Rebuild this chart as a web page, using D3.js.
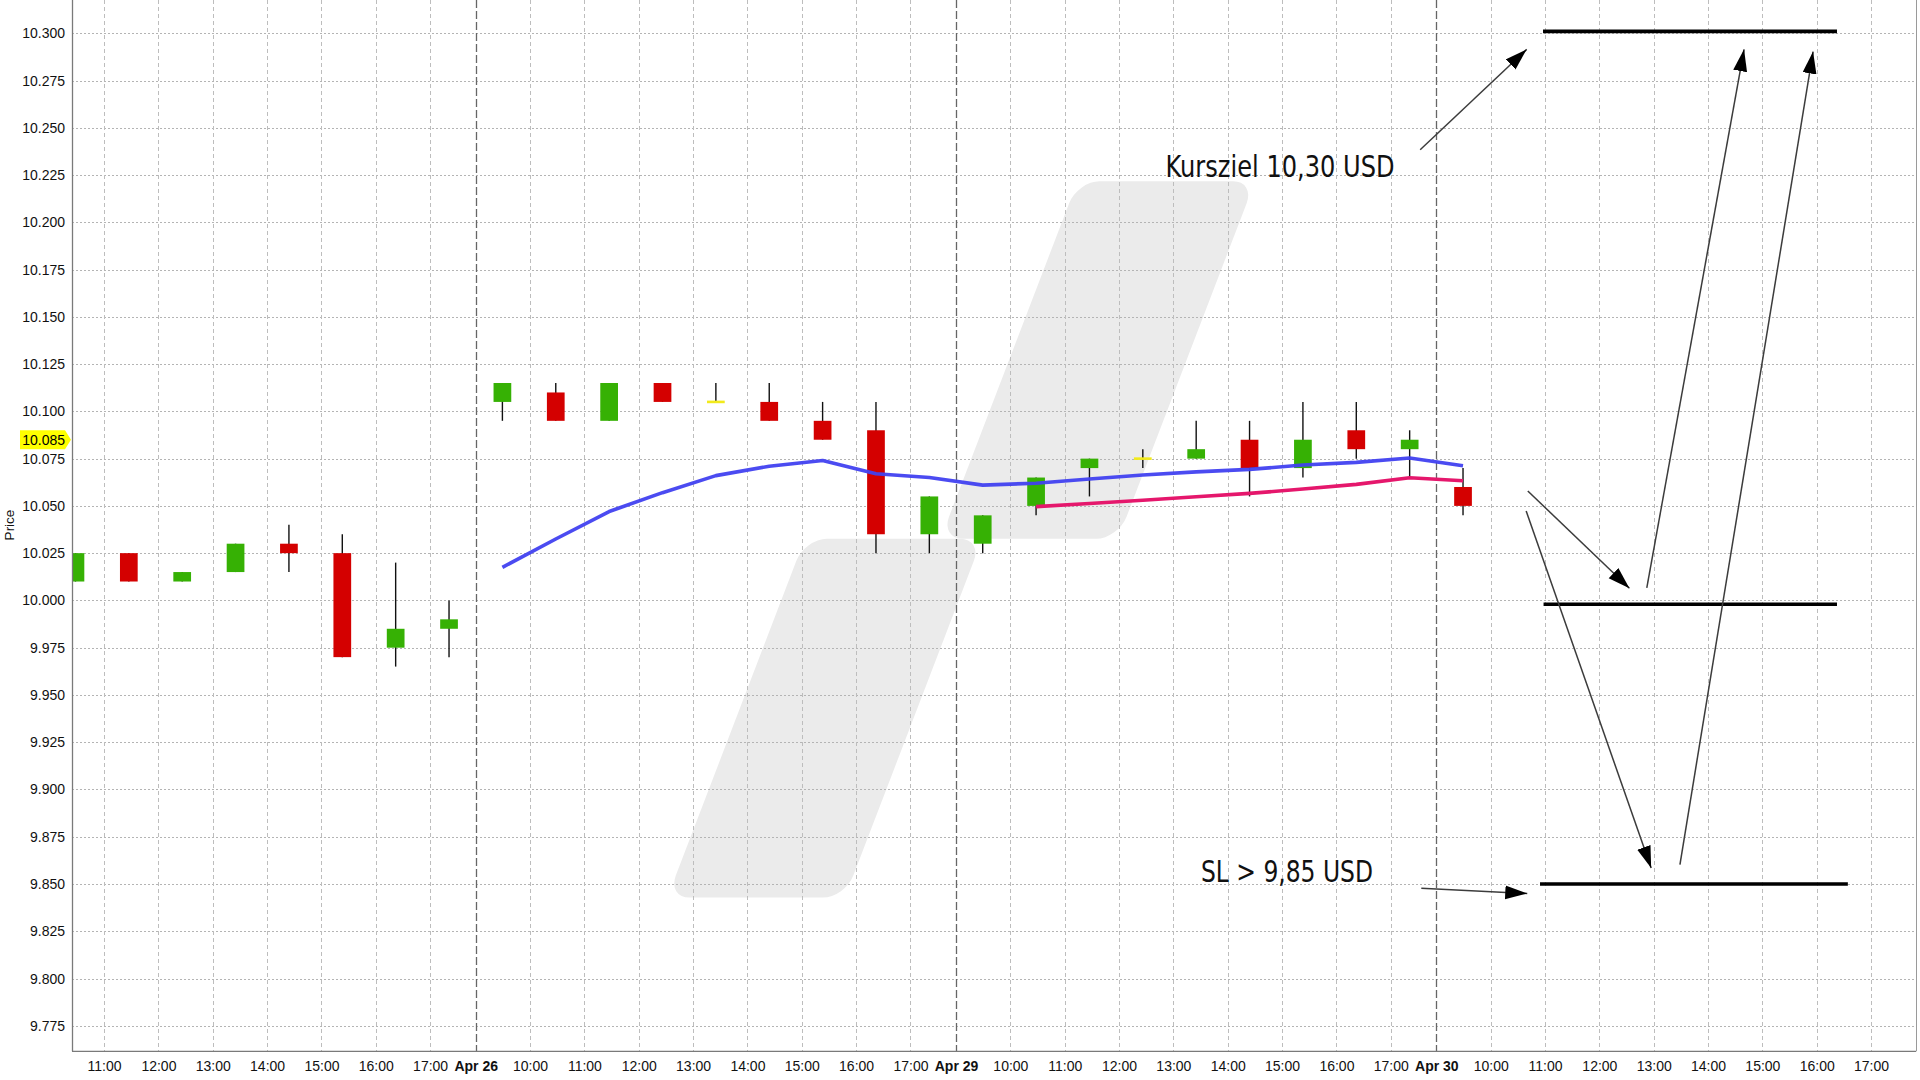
<!DOCTYPE html>
<html><head><meta charset="utf-8">
<script src="https://cdn.jsdelivr.net/npm/d3@7"></script>
<style>html,body{margin:0;padding:0;background:#fff;} svg{display:block;}</style>
</head><body>
<svg id="chart" width="1920" height="1080"></svg>
<script>
// ---------------- data ----------------
const dayNames = ["Apr 25", "Apr 26", "Apr 29", "Apr 30"];
const hourLabels = ["10:00", "11:00", "12:00", "13:00", "14:00", "15:00", "16:00", "17:00"];
const priceTicks = [9.775, 9.800, 9.825, 9.850, 9.875, 9.900, 9.925, 9.950, 9.975, 10.000, 10.025,
  10.050, 10.075, 10.100, 10.125, 10.150, 10.175, 10.200, 10.225, 10.250, 10.275, 10.300];
const lastPrice = 10.085;

const candleDay  = [0,0,0,0,0,0,0,0, 1,1,1,1,1,1,1,1,1, 2,2,2,2,2,2,2,2,2, 3];
const candleSlot = [1,2,3,4,5,6,7,8, 0,1,2,3,4,5,6,7,8, 0,1,2,3,4,5,6,7,8, 0];
const candleOpen = [10.010, 10.025, 10.010, 10.015, 10.030, 10.025, 9.975, 9.985,
  10.105, 10.110, 10.095, 10.115, 10.105, 10.105, 10.095, 10.090, 10.035,
  10.030, 10.050, 10.070, 10.075, 10.075, 10.085, 10.070, 10.090, 10.080,
  10.060];
const candleHigh = [10.025, 10.025, 10.015, 10.030, 10.040, 10.035, 10.020, 10.000,
  10.115, 10.115, 10.115, 10.115, 10.115, 10.115, 10.105, 10.105, 10.055,
  10.045, 10.065, 10.075, 10.080, 10.095, 10.095, 10.105, 10.105, 10.090,
  10.070];
const candleLow = [10.010, 10.010, 10.010, 10.015, 10.015, 9.970, 9.965, 9.970,
  10.095, 10.095, 10.095, 10.105, 10.105, 10.095, 10.085, 10.025, 10.025,
  10.025, 10.045, 10.055, 10.070, 10.075, 10.055, 10.065, 10.075, 10.065,
  10.045];
const candleClose = [10.025, 10.010, 10.015, 10.030, 10.025, 9.970, 9.985, 9.990,
  10.115, 10.095, 10.115, 10.105, 10.105, 10.095, 10.085, 10.035, 10.055,
  10.045, 10.065, 10.075, 10.075, 10.080, 10.070, 10.085, 10.080, 10.085,
  10.050];
const maBlue = [null, null, null, null, null, null, null, null,
  10.0175, 10.0325, 10.047, 10.057, 10.066, 10.071, 10.074, 10.067, 10.065,
  10.061, 10.062, 10.0642, 10.0663, 10.068, 10.0693, 10.0716, 10.073, 10.0753,
  10.0712];
const maPink = [null, null, null, null, null, null, null, null,
  null, null, null, null, null, null, null, null, null,
  null, 10.0496, 10.0513, 10.053, 10.0548, 10.0566, 10.0589, 10.0614, 10.0649,
  10.0633];

// annotation levels (price, time in session hours)
const levelPrice = [10.301, 9.998, 9.850];
const levelFromT = [28.48, 28.49, 28.425];
const levelToT   = [33.89, 33.89, 34.09];
// annotation arrows
const arrowFromT = [26.22, 30.39, 31.00, 28.20, 28.17, 26.24];
const arrowFromP = [10.2384, 10.0066, 9.8603, 10.0579, 10.0473, 9.8477];
const arrowToT   = [28.18, 32.18, 33.45, 30.07, 30.47, 28.19];
const arrowToP   = [10.2915, 10.2915, 10.2903, 10.0064, 9.8584, 9.8450];
// annotation texts
const noteText = ["Kursziel 10,30 USD", "SL > 9,85 USD"];
const noteT = [21.535, 22.186];
const noteP = [10.224, 9.851];

// ---------------- layout ----------------
const sessionHours = 8.839;   // axis length of one trading day in hours
const slotsPerDay = 9;
const pLeft = 72, pRight = 1916, pTop = 0, pBottom = 1051.3;

const x = d3.scaleLinear().domain([1.4096, 35.344]).range([pLeft, pRight]);
const y = d3.scaleLinear().domain([9.7615, 10.3176]).range([pBottom, pTop]);

const slotT = (d, s) => d * sessionHours + (s + 0.5) * sessionHours / slotsPerDay;
const hourT = (d, h) => d * sessionHours + (h - 9);
const bodyW = (x(sessionHours / slotsPerDay) - x(0)) * 0.332;

const svg = d3.select("#chart");
const font = "'Liberation Sans', Arial, Helvetica, sans-serif";

const defs = svg.append("defs");
defs.append("clipPath").attr("id", "plotclip")
  .append("rect").attr("x", pLeft).attr("y", pTop).attr("width", pRight - pLeft).attr("height", pBottom - pTop);
defs.append("marker").attr("id", "arrowhead")
  .attr("markerUnits", "userSpaceOnUse")
  .attr("markerWidth", 24).attr("markerHeight", 16)
  .attr("refX", 22).attr("refY", 7).attr("orient", "auto")
  .append("path").attr("d", "M0,0 L22,7 L0,14 Z").attr("fill", "#000");

const plot = svg.append("g").attr("clip-path", "url(#plotclip)");

// watermark (decorative background logo)
const wm = plot.append("g").attr("transform", "skewX(-20.96)").attr("fill", "#ebebeb");
wm.append("rect").attr("x", 1147.0).attr("y", 181.2).attr("width", 177.5).attr("height", 357.6).attr("rx", 22);
wm.append("rect").attr("x", 1011.2).attr("y", 538.8).attr("width", 177.5).attr("height", 358.8).attr("rx", 22);

// horizontal grid
plot.append("g").selectAll("line").data(priceTicks).join("line")
  .attr("x1", pLeft).attr("x2", pRight)
  .attr("y1", d => Math.round(y(d)) + 0.5).attr("y2", d => Math.round(y(d)) + 0.5)
  .attr("stroke", "#b4b4b4").attr("stroke-width", 1).attr("stroke-dasharray", "2,2");

// vertical hour grid
const hourTicks = [];
dayNames.forEach((dn, d) => hourLabels.forEach((hl, i) => {
  const t = hourT(d, 10 + i);
  if (x(t) > pLeft + 2 && x(t) < pRight - 2) hourTicks.push({t: t, label: hl, day: false});
}));
const dayTicks = [];
dayNames.forEach((dn, d) => { if (d > 0) dayTicks.push({t: d * sessionHours, label: dn, day: true}); });

plot.append("g").selectAll("line").data(hourTicks).join("line")
  .attr("x1", d => Math.round(x(d.t)) + 0.5).attr("x2", d => Math.round(x(d.t)) + 0.5)
  .attr("y1", pTop).attr("y2", pBottom)
  .attr("stroke", "#bdbdbd").attr("stroke-width", 1).attr("stroke-dasharray", "4,3");

plot.append("g").selectAll("line").data(dayTicks).join("line")
  .attr("x1", d => Math.round(x(d.t)) + 0.5).attr("x2", d => Math.round(x(d.t)) + 0.5)
  .attr("y1", pTop).attr("y2", pBottom)
  .attr("stroke", "#666").attr("stroke-width", 1.3).attr("stroke-dasharray", "8,3");

// candles
const candles = candleOpen.map((o, i) => ({
  t: slotT(candleDay[i], candleSlot[i]), o: o, h: candleHigh[i], l: candleLow[i], c: candleClose[i]
}));
const cg = plot.append("g");
cg.selectAll("line").data(candles).join("line")
  .attr("x1", d => x(d.t)).attr("x2", d => x(d.t))
  .attr("y1", d => y(d.h)).attr("y2", d => y(d.l))
  .attr("stroke", "#111").attr("stroke-width", 1.4);
cg.selectAll("rect").data(candles).join("rect")
  .attr("x", d => x(d.t) - bodyW / 2)
  .attr("width", bodyW)
  .attr("y", d => d.o === d.c ? y(d.o) - 1.3 : y(Math.max(d.o, d.c)))
  .attr("height", d => d.o === d.c ? 2.6 : Math.abs(y(d.o) - y(d.c)))
  .attr("fill", d => d.o === d.c ? "#f2ea1c" : (d.c > d.o ? "#36b104" : "#d40000"));

// moving averages
const lineGen = d3.line().defined(d => d.v !== null).x(d => x(d.t)).y(d => y(d.v));
plot.append("path")
  .datum(candles.map((c, i) => ({t: c.t, v: maBlue[i]})))
  .attr("d", lineGen).attr("fill", "none")
  .attr("stroke", "#4141f0").attr("stroke-width", 3.6).attr("stroke-linejoin", "round").attr("opacity", 0.95);
plot.append("path")
  .datum(candles.map((c, i) => ({t: c.t, v: maPink[i]})))
  .attr("d", lineGen).attr("fill", "none")
  .attr("stroke", "#e5176c").attr("stroke-width", 3.6).attr("stroke-linejoin", "round");

// annotations
const ag = plot.append("g");
ag.selectAll("line.level").data(levelPrice).join("line").attr("class", "level")
  .attr("x1", (p, i) => x(levelFromT[i])).attr("x2", (p, i) => x(levelToT[i]))
  .attr("y1", p => y(p)).attr("y2", p => y(p))
  .attr("stroke", "#000").attr("stroke-width", 3.6);
ag.selectAll("line.arrow").data(arrowFromT).join("line").attr("class", "arrow")
  .attr("x1", (t, i) => x(t)).attr("y1", (t, i) => y(arrowFromP[i]))
  .attr("x2", (t, i) => x(arrowToT[i])).attr("y2", (t, i) => y(arrowToP[i]))
  .attr("stroke", "#3c3c3c").attr("stroke-width", 1.5)
  .attr("marker-end", "url(#arrowhead)");
ag.selectAll("text").data(noteText).join("text")
  .attr("x", (s, i) => x(noteT[i])).attr("y", (s, i) => y(noteP[i]))
  .attr("textLength", (s, i) => i === 0 ? 229 : 172)
  .attr("lengthAdjust", "spacingAndGlyphs")
  .attr("font-family", "'DejaVu Sans Condensed', 'DejaVu Sans', sans-serif")
  .attr("font-size", 31).attr("fill", "#111")
  .text(s => s);

// axes
const yAxis = d3.axisLeft(y).tickValues(priceTicks).tickFormat(d3.format(".3f")).tickSize(0).tickPadding(7);
const yg = svg.append("g").attr("transform", `translate(${pLeft},0)`).call(yAxis);
yg.select(".domain").remove();
yg.selectAll("text").attr("font-family", font).attr("font-size", 14).attr("fill", "#111");

const allXTicks = hourTicks.concat(dayTicks).sort((a, b) => a.t - b.t);
const xAxis = d3.axisBottom(x).tickValues(allXTicks.map(d => d.t))
  .tickFormat((t, i) => allXTicks[i].label).tickSize(0).tickPadding(9.5);
const xg = svg.append("g").attr("transform", `translate(0,${pBottom})`).call(xAxis);
xg.select(".domain").remove();
xg.selectAll("text").attr("font-family", font).attr("font-size", 14).attr("fill", "#111")
  .attr("font-weight", (t, i) => allXTicks[i].day ? "bold" : "normal");

// frame lines
svg.append("line").attr("x1", pLeft + 0.5).attr("x2", pLeft + 0.5).attr("y1", 0).attr("y2", pBottom)
  .attr("stroke", "#7a7a7a").attr("stroke-width", 1.3);
svg.append("line").attr("x1", pLeft).attr("x2", pRight).attr("y1", pBottom).attr("y2", pBottom)
  .attr("stroke", "#7a7a7a").attr("stroke-width", 1.3);
svg.append("line").attr("x1", pRight + 0.5).attr("x2", pRight + 0.5).attr("y1", 0).attr("y2", pBottom)
  .attr("stroke", "#9a9a9a").attr("stroke-width", 1);

// y-axis title
svg.append("text").attr("transform", "translate(14,525) rotate(-90)")
  .attr("text-anchor", "middle").attr("font-family", font).attr("font-size", 13.5)
  .attr("fill", "#111").text("Price");

// last price marker
const ly = y(lastPrice);
svg.append("path")
  .attr("d", `M20,${ly - 9.5} H65 L71,${ly} L65,${ly + 9.5} H20 Z`)
  .attr("fill", "#ffff00");
svg.append("text").attr("x", 65).attr("y", ly + 5).attr("text-anchor", "end")
  .attr("font-family", font).attr("font-size", 14).attr("fill", "#000")
  .text(d3.format(".3f")(lastPrice));
</script>
</body></html>
